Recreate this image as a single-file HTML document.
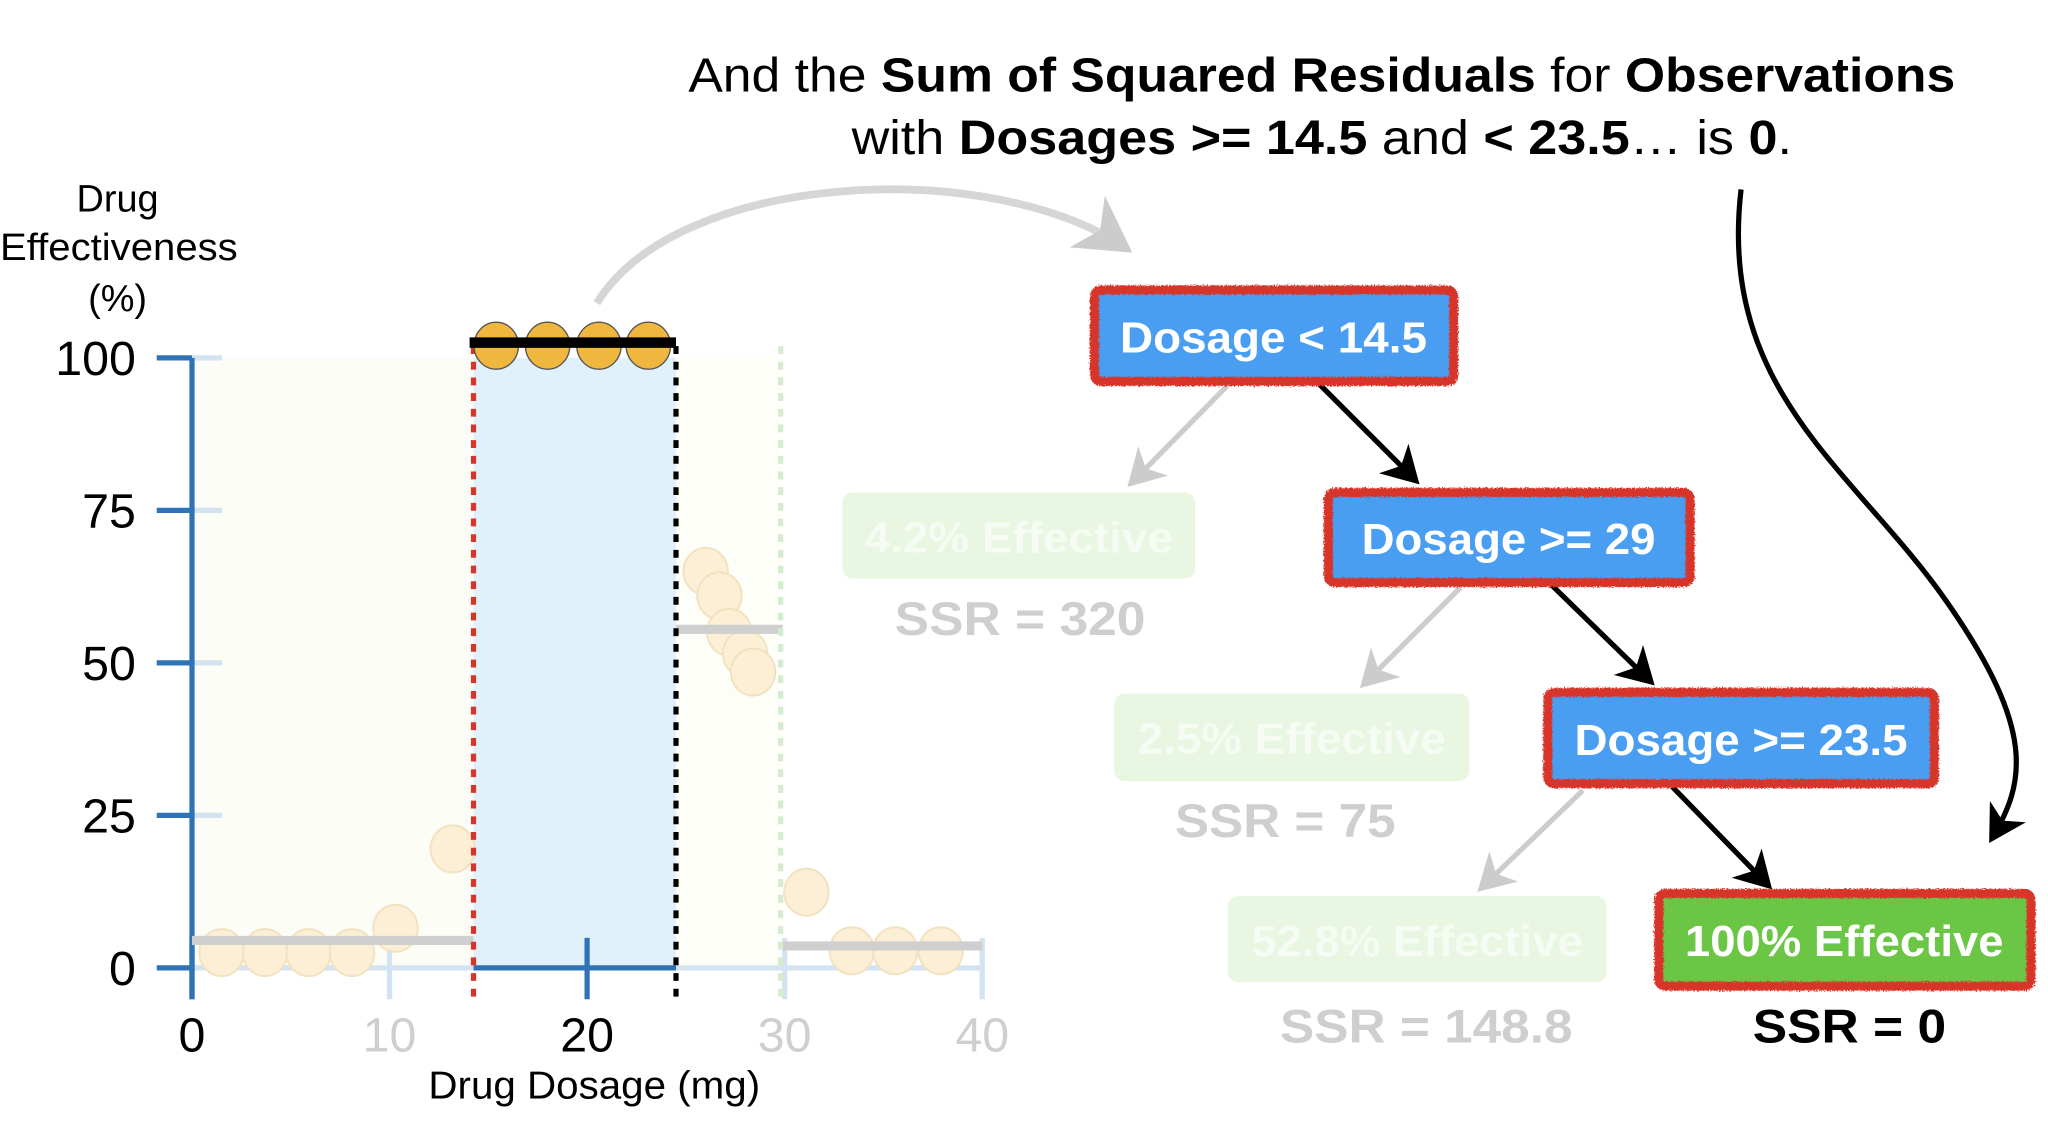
<!DOCTYPE html>
<html><head><meta charset="utf-8">
<style>
html,body{margin:0;padding:0;background:#fff;}
svg{display:block;font-family:"Liberation Sans",sans-serif;}
</style></head>
<body>
<svg id="chart" width="2048" height="1122" viewBox="0 0 1568 859" preserveAspectRatio="none" xmlns="http://www.w3.org/2000/svg">
<defs>
<filter id="rough" x="-5%" y="-20%" width="110%" height="140%">
<feTurbulence type="fractalNoise" baseFrequency="0.9" numOctaves="2" result="n"/>
<feDisplacementMap in="SourceGraphic" in2="n" scale="4"/>
</filter>
<marker id="ahB" markerWidth="8" markerHeight="8" refX="6" refY="4" orient="auto" markerUnits="strokeWidth"><path d="M0,0 L7,4 L0,8 L2,4 Z" fill="#000"/></marker>
<marker id="ahG" markerWidth="8" markerHeight="8" refX="6" refY="4" orient="auto" markerUnits="strokeWidth"><path d="M0,0 L7,4 L0,8 L2,4 Z" fill="#ccc"/></marker>
</defs>

<g font-size="37" text-anchor="middle" fill="#000">
<text x="1012" y="70" textLength="970" lengthAdjust="spacingAndGlyphs">And the <tspan font-weight="bold">Sum of Squared Residuals</tspan> for <tspan font-weight="bold">Observations</tspan></text>
<text x="1012" y="118" textLength="720" lengthAdjust="spacingAndGlyphs">with <tspan font-weight="bold">Dosages &gt;= 14.5</tspan> and <tspan font-weight="bold">&lt; 23.5</tspan>… is <tspan font-weight="bold">0</tspan>.</text>
</g>

<g font-size="29" text-anchor="middle">
<text x="90" y="162">Drug</text>
<text x="91" y="199" textLength="182" lengthAdjust="spacingAndGlyphs">Effectiveness</text>
<text x="90" y="238">(%)</text>
</g>
<text x="455" y="841" font-size="30" text-anchor="middle" textLength="254" lengthAdjust="spacingAndGlyphs">Drug Dosage (mg)</text>

<g id="plot"></g>

<path d="M457,232 C520,130 760,120 862,190" fill="none" stroke="#d6d6d6" stroke-width="6" marker-end="url(#ahG)"/>
<path d="M1333,145 C1315,300 1420,360 1490,460 C1560,560 1550,600 1525,642" fill="none" stroke="#000" stroke-width="4" marker-end="url(#ahB)"/>

<g>
<line x1="1010" y1="294" x2="1084" y2="368" stroke="#000" stroke-width="4" marker-end="url(#ahB)"/>
<line x1="1188" y1="448" x2="1264" y2="522" stroke="#000" stroke-width="4" marker-end="url(#ahB)"/>
<line x1="1280" y1="602" x2="1354" y2="678" stroke="#000" stroke-width="4" marker-end="url(#ahB)"/>
<line x1="940" y1="295" x2="866" y2="370" stroke="#ccc" stroke-width="4" marker-end="url(#ahG)"/>
<line x1="1118" y1="450" x2="1044" y2="524" stroke="#ccc" stroke-width="4" marker-end="url(#ahG)"/>
<line x1="1212" y1="605" x2="1134" y2="680" stroke="#ccc" stroke-width="4" marker-end="url(#ahG)"/>
</g>

<g font-weight="bold" font-size="33" text-anchor="middle" lengthAdjust="spacingAndGlyphs">
<g>
<rect x="838" y="222" width="275" height="70" rx="5" fill="#4a9ef2" stroke="#d8352a" stroke-width="7" filter="url(#rough)"/>
<text x="975" y="270" fill="#fff" textLength="235" lengthAdjust="spacingAndGlyphs">Dosage &lt; 14.5</text></g>
<g>
<rect x="1017" y="377" width="277" height="69" rx="5" fill="#4a9ef2" stroke="#d8352a" stroke-width="7" filter="url(#rough)"/>
<text x="1155" y="424" fill="#fff" textLength="225" lengthAdjust="spacingAndGlyphs">Dosage &gt;= 29</text></g>
<g>
<rect x="1185" y="530" width="296" height="70" rx="5" fill="#4a9ef2" stroke="#d8352a" stroke-width="7" filter="url(#rough)"/>
<text x="1333" y="578" fill="#fff" textLength="255" lengthAdjust="spacingAndGlyphs">Dosage &gt;= 23.5</text></g>
<g>
<rect x="1270" y="684" width="285" height="71" rx="5" fill="#6cc644" stroke="#d8352a" stroke-width="7" filter="url(#rough)"/>
<text x="1412" y="732" fill="#fff" textLength="244" lengthAdjust="spacingAndGlyphs">100% Effective</text></g>
<text x="1416" y="798" fill="#000" font-size="36" textLength="148" lengthAdjust="spacingAndGlyphs">SSR = 0</text>

<g>
<rect x="645" y="377" width="270" height="66" rx="8" fill="#e8f6e2"/>
<text x="780" y="423" fill="#f6fbf3" textLength="236" lengthAdjust="spacingAndGlyphs">4.2% Effective</text></g>
<text x="781" y="486" fill="#cfcfcf" font-size="36" textLength="192" lengthAdjust="spacingAndGlyphs">SSR = 320</text>
<g>
<rect x="853" y="531" width="272" height="67" rx="8" fill="#e8f6e2"/>
<text x="989" y="577" fill="#f6fbf3" textLength="236" lengthAdjust="spacingAndGlyphs">2.5% Effective</text></g>
<text x="984" y="641" fill="#cfcfcf" font-size="36" textLength="169" lengthAdjust="spacingAndGlyphs">SSR = 75</text>
<g>
<rect x="940" y="686" width="290" height="66" rx="8" fill="#e8f6e2"/>
<text x="1085" y="732" fill="#f6fbf3" textLength="254" lengthAdjust="spacingAndGlyphs">52.8% Effective</text></g>
<text x="1092" y="798" fill="#cfcfcf" font-size="36" textLength="224" lengthAdjust="spacingAndGlyphs">SSR = 148.8</text>
</g>
</svg>

<script>
const xTicks = [0, 10, 20, 30, 40];
const xTickActive = [true, false, true, false, false];
const yTicks = [0, 25, 50, 75, 100];
const fadedX = [1.5, 3.7, 5.9, 8.1, 10.3, 13.2, 26.0, 26.7, 27.2, 28.0, 28.4, 31.1, 33.4, 35.6, 37.9];
const fadedY = [2.5, 2.5, 2.5, 2.5, 6.5, 19.5, 65, 61, 55, 51.5, 48.5, 12.4, 2.8, 2.8, 2.8];
const activeX = [15.4, 18.0, 20.6, 23.1];
const activeY = [102, 102, 102, 102];
const splits = [14.25, 24.5, 29.8];
const meanStart = [0, 24.5, 29.9];
const meanEnd = [14.25, 29.9, 40];
const meanVal = [4.5, 55.5, 3.6];
const activeMean = 102.5;

const NS = 'http://www.w3.org/2000/svg';
const plot = document.getElementById('plot');
const X = d => 147 + d * 15.125;
const Y = v => 741 - v * 4.67;
function mk(tag, attrs, parent) {
  const e = document.createElementNS(NS, tag);
  for (const k in attrs) e.setAttribute(k, attrs[k]);
  (parent || plot).appendChild(e);
  return e;
}
let e;
e = mk('rect', {x: X(0), y: Y(100), width: X(splits[0]) - X(0), height: Y(0) - Y(100), fill: '#fbfdf6'});


e = mk('rect', {x: X(splits[0]), y: Y(100), width: X(splits[1]) - X(splits[0]), height: Y(0) - Y(100), fill: '#e1f1fc'});


e = mk('rect', {x: X(splits[1]), y: Y(100), width: X(splits[2]) - X(splits[1]), height: Y(0) - Y(100), fill: '#fdfef7'});



yTicks.forEach(v => {
  e = mk('line', {x1: 147, x2: 170, y1: Y(v), y2: Y(v), stroke: '#d3e3f1', 'stroke-width': 4});
  
  
  e = mk('line', {x1: 120, x2: 147, y1: Y(v), y2: Y(v), stroke: '#2f73b6', 'stroke-width': 4});
  
  
  e = mk('text', {x: 104, y: Y(v) + 13, 'font-size': 37, 'text-anchor': 'end'});
  e.textContent = v;
  
  
});
e = mk('line', {x1: X(0), x2: X(40), y1: Y(0), y2: Y(0), stroke: '#d3e3f1', 'stroke-width': 4});


e = mk('line', {x1: X(splits[0]), x2: X(splits[1]), y1: Y(0), y2: Y(0), stroke: '#2f73b6', 'stroke-width': 4});


xTicks.forEach((t, i) => {
  const c = xTickActive[i] ? '#2f73b6' : '#d3e3f1';
  e = mk('line', {x1: X(t), x2: X(t), y1: 718, y2: 765, stroke: c, 'stroke-width': 4});
  
  
  e = mk('text', {x: X(t), y: 805, 'font-size': 37, 'text-anchor': 'middle', fill: xTickActive[i] ? '#000' : '#cfcfcf'});
  e.textContent = t;
  
  
});
e = mk('line', {x1: 147, x2: 147, y1: Y(100), y2: 765, stroke: '#2f73b6', 'stroke-width': 4});



fadedX.forEach((d, i) => {
  e = mk('ellipse', {cx: X(d), cy: Y(fadedY[i]), rx: 17, ry: 18, fill: '#fcefd6', stroke: '#f1e2c0', 'stroke-width': 1.5});
  
  
});
meanVal.forEach((v, i) => {
  e = mk('line', {x1: X(meanStart[i]), x2: X(meanEnd[i]), y1: Y(v), y2: Y(v), stroke: '#cfcfcf', 'stroke-width': 7});
  
  
});
const splitColors = ['#d8352a', '#000', '#d5ecd0'];
splits.forEach((s, i) => {
  e = mk('line', {x1: X(s), x2: X(s), y1: 265, y2: 765, stroke: splitColors[i], 'stroke-width': 4, 'stroke-dasharray': '6 6'});
  
  
});
activeX.forEach((d, i) => {
  e = mk('ellipse', {cx: X(d), cy: Y(activeY[i]), rx: 17, ry: 18, fill: '#efb73e', stroke: '#555', 'stroke-width': 1});
  
  
});
e = mk('line', {x1: X(splits[0]) - 3, x2: X(splits[1]), y1: Y(activeMean), y2: Y(activeMean), stroke: '#000', 'stroke-width': 8});


</script>
</body></html>
